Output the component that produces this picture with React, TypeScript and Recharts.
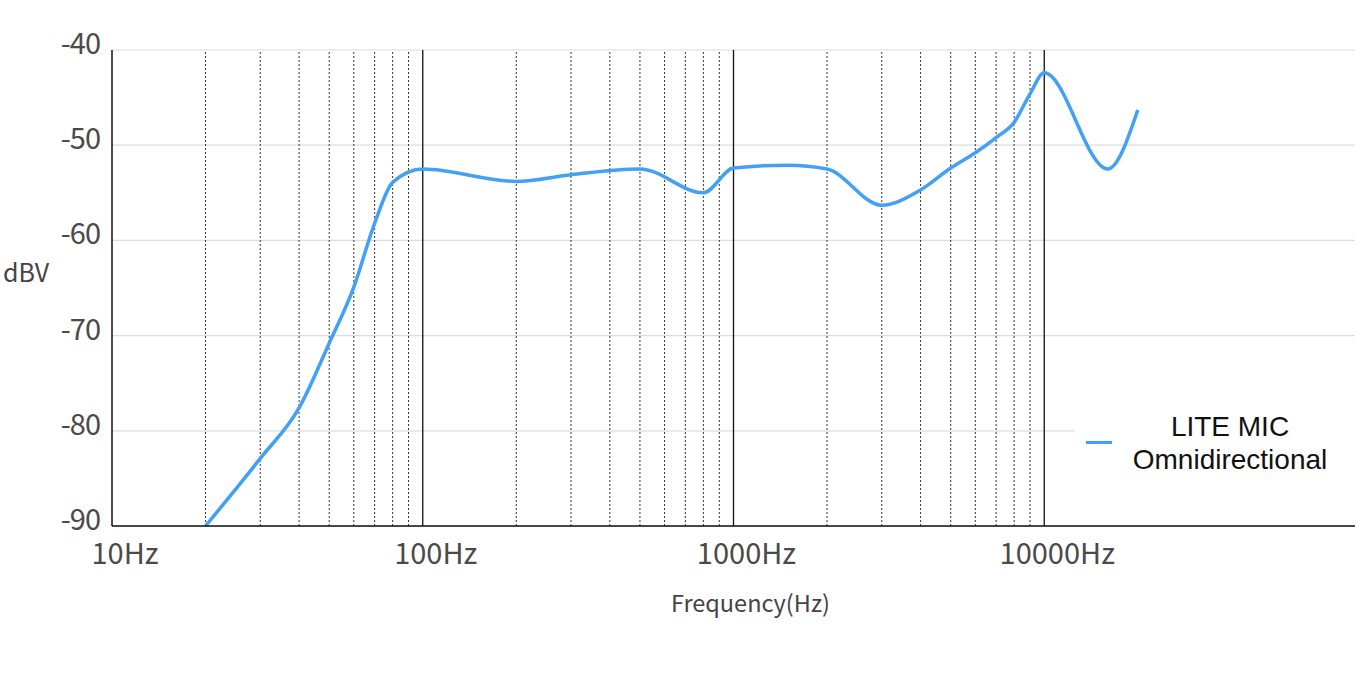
import React from "react";
import {
  LineChart,
  Line,
  XAxis,
  YAxis,
  CartesianGrid,
  ReferenceLine,
  Legend,
} from "recharts";

const frequencies = [20, 30, 40, 50, 60, 70, 80, 100, 200, 300, 500, 800, 1000, 1500, 2000, 3000, 4000, 5000, 6000, 7000, 8000, 9000, 10000, 16000, 20000];
const dbv = [-90, -82.9, -77.6, -70.8, -64.9, -58.2, -53.9, -52.5, -53.8, -53.1, -52.5, -55.0, -52.4, -52.1, -52.5, -56.3, -54.7, -52.4, -50.8, -49.2, -47.6, -44.6, -42.4, -52.5, -46.3];

const xTicks = [10, 100, 1000, 10000];
const yTicks = [-90, -80, -70, -60, -50, -40];
const majorLines = [100, 1000, 10000];
const minorLines = [20, 30, 40, 50, 60, 70, 80, 90, 200, 300, 400, 500, 600, 700, 800, 900, 2000, 3000, 4000, 5000, 6000, 7000, 8000, 9000];

const seriesName = "LITE MIC\nOmnidirectional";

const data = frequencies.map((f, i) => ({ f, v: dbv[i] }));

const CJK = '"Noto Sans CJK SC", "Noto Sans", sans-serif';

const XTick = (props: any) => {
  const { x, y, payload } = props;
  return (
    <text x={x + 13} y={y + 38} textAnchor="middle" fontFamily={CJK} fontSize={29} fill="#4a4a4a">
      {payload.value}Hz
    </text>
  );
};

const YTick = (props: any) => {
  const { x, y, payload } = props;
  return (
    <text x={x - 12} y={y + 4} textAnchor="end" fontFamily={CJK} fontSize={29} letterSpacing={-1} fill="#4a4a4a">
      {payload.value}
    </text>
  );
};

const LegendContent = () => (
  <div style={{ background: "#fff", width: 280, height: 80, position: "relative", fontFamily: '"Liberation Sans", Arial, sans-serif' }}>
    <div style={{ position: "absolute", left: 11, top: 41, width: 26, height: 3, background: "#42a0f5" }} />
    <div style={{ position: "absolute", left: 40, top: 10, width: 230, textAlign: "center", fontSize: 28, lineHeight: "33px", color: "#111", whiteSpace: "pre" }}>
      {seriesName}
    </div>
  </div>
);

export default function App() {
  return (
    <div>
      <style>{`body{margin:0}`}</style>
      <LineChart width={1360} height={675} data={data} margin={{ top: 50, right: 5, bottom: 109, left: 52 }}>
        <CartesianGrid vertical={false} stroke="#dcdcdc" strokeWidth={1.2} />
        <XAxis
          dataKey="f"
          type="number"
          scale="log"
          domain={[10, 100000]}
          ticks={xTicks}
          interval={0}
          height={40}
          allowDataOverflow
          tick={<XTick />}
          tickLine={false}
          tickSize={0}
          tickMargin={0}
          axisLine={{ stroke: "#111", strokeWidth: 1.5 }}
          label={{ value: "Frequency(Hz)", position: "insideBottom", dx: 17, offset: -46, style: { fontFamily: CJK, fontSize: 23.5, fill: "#444" } } as any}
        />
        <YAxis
          type="number"
          domain={[-90, -40]}
          ticks={yTicks}
          interval={0}
          width={60}
          tick={<YTick />}
          tickLine={false}
          tickSize={0}
          tickMargin={0}
          axisLine={{ stroke: "#111", strokeWidth: 1.5 }}
        />
        {minorLines.map((f) => (
          <ReferenceLine key={"m" + f} x={f} stroke="#333" strokeWidth={1} strokeDasharray="2 2" />
        ))}
        {majorLines.map((f) => (
          <ReferenceLine key={"M" + f} x={f} stroke="#111" strokeWidth={1.3} />
        ))}
        <Legend
          layout="vertical"
          verticalAlign="middle"
          align="center"
          content={<LegendContent />}
          wrapperStyle={{ position: "absolute", left: 1075, top: 400, width: 280 }}
        />
        <Line
          type="monotone"
          dataKey="v"
          name={seriesName}
          stroke="#42a0f5"
          strokeWidth={3.5}
          dot={false}
          isAnimationActive={false}
        />
      </LineChart>
      <div style={{ position: "absolute", left: 3, top: 253, fontFamily: CJK, fontSize: 25, color: "#444" }}>dBV</div>
    </div>
  );
}
